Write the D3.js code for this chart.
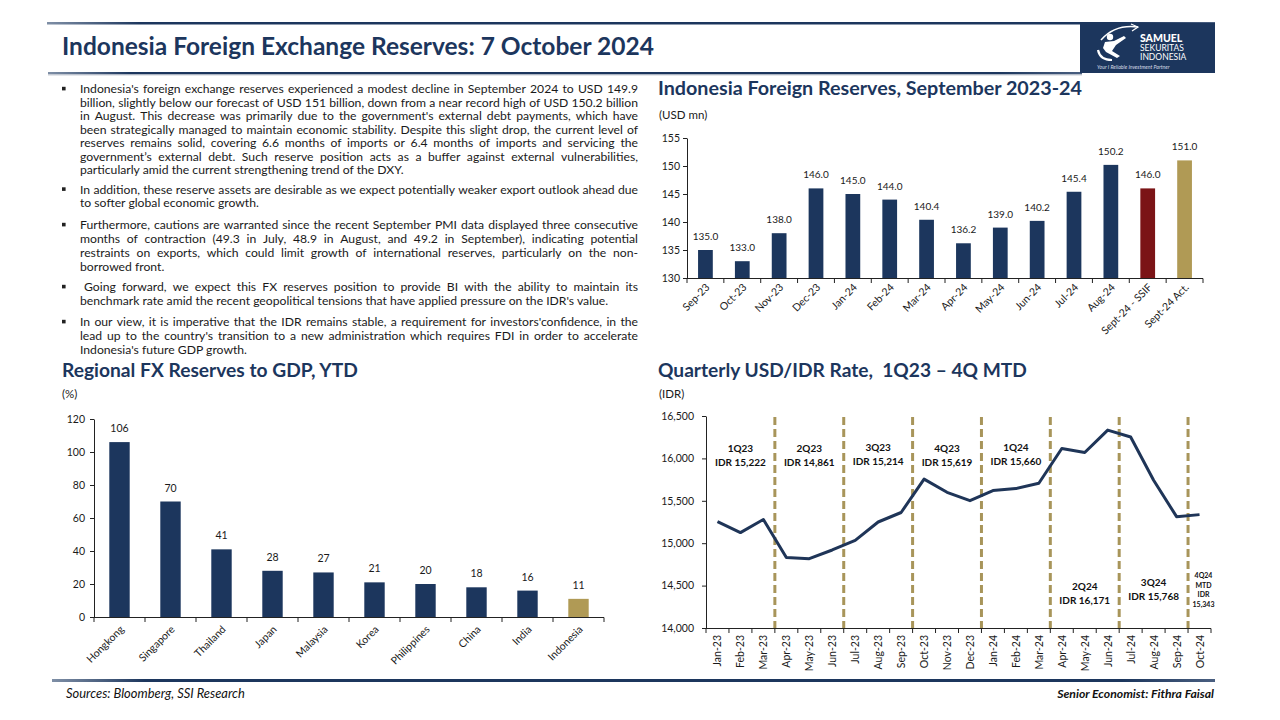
<!DOCTYPE html>
<html>
<head>
<meta charset="utf-8">
<script src="https://cdn.jsdelivr.net/npm/d3@7"></script>
<style>
  html, body { margin: 0; padding: 0; background: #fff; }
  svg { display: block; font-family: Lato, "Open Sans", sans-serif; }
</style>
</head>
<body>
<script>
// ---------------- DATA ----------------
const resCategories = ["Sep-23","Oct-23","Nov-23","Dec-23","Jan-24","Feb-24","Mar-24","Apr-24","May-24","Jun-24","Jul-24","Aug-24","Sept-24 - SSIF","Sept-24 Act."];
const resValues = [135.0,133.0,138.0,146.0,145.0,144.0,140.4,136.2,139.0,140.2,145.4,150.2,146.0,151.0];
const resTicks = [130,135,140,145,150,155];

const gdpCountries = ["Hongkong","Singapore","Thailand","Japan","Malaysia","Korea","Philippines","China","India","Indonesia"];
const gdpValues = [106,70,41,28,27,21,20,18,16,11];
const gdpTicks = [0,20,40,60,80,100,120];

const fxMonths = ["Jan-23","Feb-23","Mar-23","Apr-23","May-23","Jun-23","Jul-23","Aug-23","Sep-23","Oct-23","Nov-23","Dec-23","Jan-24","Feb-24","Mar-24","Apr-24","May-24","Jun-24","Jul-24","Aug-24","Sep-24","Oct-24"];
const fxValues = [15255,15125,15280,14832,14818,14920,15033,15250,15362,15755,15600,15502,15621,15644,15707,16117,16070,16334,16252,15743,15313,15337];
const fxTicks = [14000,14500,15000,15500,16000,16500];
const quarterNames = ["1Q23","2Q23","3Q23","4Q23","1Q24","2Q24","3Q24"];
const quarterAvg = ["IDR 15,222","IDR 14,861","IDR 15,214","IDR 15,619","IDR 15,660","IDR 16,171","IDR 15,768"];
const mtdLines = ["4Q24","MTD","IDR","15,343"];

const paragraphs = [
  ["Indonesia's foreign exchange reserves experienced a modest decline in September 2024 to USD 149.9",
   "billion, slightly below our forecast of USD 151 billion, down from a near record high of USD 150.2 billion",
   "in August. This decrease was primarily due to the government's external debt payments, which have",
   "been strategically managed to maintain economic stability. Despite this slight drop, the current level of",
   "reserves remains solid, covering 6.6 months of imports or 6.4 months of imports and servicing the",
   "government’s external debt. Such reserve position acts as a buffer against external vulnerabilities,",
   "particularly amid the current strengthening trend of the DXY."],
  ["In addition, these reserve assets are desirable as we expect potentially weaker export outlook ahead due",
   "to softer global economic growth."],
  ["Furthermore, cautions are warranted since the recent September PMI data displayed three consecutive",
   "months of contraction (49.3 in July, 48.9 in August, and 49.2 in September), indicating potential",
   "restraints on exports, which could limit growth of international reserves, particularly on the non-",
   "borrowed front."],
  ["Going forward, we expect this FX reserves position to provide BI with the ability to maintain its",
   "benchmark rate amid the recent geopolitical tensions that have applied pressure on the IDR's value."],
  ["In our view, it is imperative that the IDR remains stable, a requirement for investors'confidence, in the",
   "lead up to the country's transition to a new administration which requires FDI in order to accelerate",
   "Indonesia's future GDP growth."]
];

// ---------------- STYLE ----------------
const NAVY = "#1c365d";
const RED = "#7b1416";
const GOLD = "#b09a55";
const TEXT = "#1a1a1a";

const svg = d3.select("body").append("svg").attr("width", 1280).attr("height", 720);

const defs = svg.append("defs");
const grad = defs.append("linearGradient").attr("id", "rule").attr("x1", "0%").attr("x2", "100%");
grad.append("stop").attr("offset", "0%").attr("stop-color", "#7f8fa6");
grad.append("stop").attr("offset", "8%").attr("stop-color", NAVY);
grad.append("stop").attr("offset", "92%").attr("stop-color", NAVY);
grad.append("stop").attr("offset", "100%").attr("stop-color", "#4a5f80");

function fit(sel, width) {
  const fs = parseFloat(sel.attr("font-size"));
  const w = sel.node().getComputedTextLength();
  sel.attr("font-size", fs * width / w);
  return sel;
}

// ---------------- HEADER ----------------
svg.append("rect").attr("x", 47).attr("y", 22).attr("width", 1168).attr("height", 2.5).attr("fill", "url(#rule)");
svg.append("rect").attr("x", 48).attr("y", 72).attr("width", 1034).attr("height", 2.5).attr("fill", "url(#rule)");
svg.append("rect").attr("x", 48).attr("y", 74.5).attr("width", 1034).attr("height", 1).attr("fill", "#c9ced6");

fit(svg.append("text").attr("x", 62).attr("y", 55).attr("font-size", 22).attr("font-weight", 700)
  .attr("fill", NAVY).text("Indonesia Foreign Exchange Reserves: 7 October 2024"), 592);

// logo
const logo = svg.append("g");
logo.append("rect").attr("x", 1080).attr("y", 23).attr("width", 135).attr("height", 50).attr("fill", NAVY);
logo.append("path").attr("d", "M1101,40 Q1115,24 1138,27").attr("fill", "none").attr("stroke", "#fff").attr("stroke-width", 1.5);
logo.append("path").attr("d", "M1131,24 L1138,27 L1132,31").attr("fill", "none").attr("stroke", "#fff").attr("stroke-width", 1.2);
logo.append("circle").attr("cx", 1110).attr("cy", 37).attr("r", 3.2).attr("fill", "#fff");
logo.append("path").attr("d", "M1105,42 L1114,41 L1124,36 L1126,38 L1116,45 L1112,51 L1120,56 L1117,58 L1106,52 L1103,48 Z").attr("fill", "#fff");
logo.append("path").attr("d", "M1098,50 Q1100,60 1112,60").attr("fill", "none").attr("stroke", "#fff").attr("stroke-width", 2.2);
logo.append("text").attr("x", 1140).attr("y", 42).attr("font-size", 10.5).attr("font-weight", 900).attr("fill", "#fff").text("SAMUEL");
logo.append("text").attr("x", 1140).attr("y", 51).attr("font-size", 8.5).attr("fill", "#fff").text("SEKURITAS");
logo.append("text").attr("x", 1140).attr("y", 60).attr("font-size", 8.5).attr("fill", "#fff").text("INDONESIA");
logo.append("text").attr("x", 1097).attr("y", 68.5).attr("font-size", 5.2).attr("font-style", "italic").attr("fill", "#d5dbe6").text("Your I Reliable Investment Partner");

// ---------------- BODY TEXT ----------------
const body = svg.append("g").attr("fill", TEXT);
const probe = body.append("text").attr("font-size", 10).text(paragraphs[0][6]);
const bodyFs = 10 * 324 / probe.node().getComputedTextLength();
probe.remove();

const lineY = [[89,102.5,116,129.5,143,156.5,170],[189.5,203],[225,239,253,267],[287,301],[322,336,350]];
const X0 = 80, X1 = 638;
paragraphs.forEach((lines, pi) => {
  body.append("rect").attr("x", 62).attr("y", lineY[pi][0] - 2.2).attr("width", 3.6).attr("height", 3.6).attr("fill", "#222");
  lines.forEach((ln, li) => {
    const y = lineY[pi][li] + bodyFs * 0.35;
    const justify = li < lines.length - 1;
    const startX = (pi === 3 && li === 0) ? X0 + 4 : X0;
    if (!justify) {
      body.append("text").attr("x", startX).attr("y", y).attr("font-size", bodyFs).text(ln);
      return;
    }
    const words = ln.split(" ");
    const lg = body.append("g");
    const nodes = words.map(w => lg.append("text").attr("y", y).attr("font-size", bodyFs).text(w));
    const widths = nodes.map(n => n.node().getComputedTextLength());
    const gap = (X1 - startX - d3.sum(widths)) / (words.length - 1);
    let x = startX;
    nodes.forEach((n, i) => { n.attr("x", x); x += widths[i] + gap; });
  });
});

// ---------------- SECTION TITLES ----------------
fit(svg.append("text").attr("x", 658).attr("y", 94.5).attr("font-size", 18).attr("font-weight", 700).attr("fill", NAVY)
  .text("Indonesia Foreign Reserves, September 2023-24"), 424);
fit(svg.append("text").attr("x", 62).attr("y", 376.5).attr("font-size", 18).attr("font-weight", 700).attr("fill", NAVY)
  .text("Regional FX Reserves to GDP, YTD"), 296);
fit(svg.append("text").attr("x", 658).attr("y", 376.5).attr("font-size", 18).attr("font-weight", 700).attr("fill", NAVY)
  .style("white-space", "pre").text("Quarterly USD/IDR Rate,  1Q23 – 4Q MTD"), 369);

svg.append("text").attr("x", 659).attr("y", 119).attr("font-size", 11.5).attr("fill", TEXT).text("(USD mn)");
svg.append("text").attr("x", 62).attr("y", 398).attr("font-size", 11.5).attr("fill", TEXT).text("(%)");
svg.append("text").attr("x", 659).attr("y", 398).attr("font-size", 11.5).attr("fill", TEXT).text("(IDR)");

function styleAxis(g) {
  g.selectAll("path.domain").attr("stroke", "#222").attr("stroke-width", 1);
  g.selectAll(".tick line").attr("stroke", "#222");
  g.selectAll(".tick text").attr("fill", TEXT).attr("font-size", 10.5).attr("font-family", "Lato, sans-serif");
}

// ---------------- CHART 1: Foreign reserves ----------------
{
  const x = d3.scaleBand().domain(resCategories).range([687, 1203]).padding(0);
  const y = d3.scaleLinear().domain([130, 155]).range([278, 138]);
  const g = svg.append("g");
  const bw = x.bandwidth() * 0.4;
  g.selectAll("rect.bar").data(resCategories).join("rect")
    .attr("x", d => x(d) + (x.bandwidth() - bw) / 2)
    .attr("y", (d, i) => y(resValues[i]))
    .attr("width", bw)
    .attr("height", (d, i) => y(130) - y(resValues[i]))
    .attr("fill", d => d === "Sept-24 - SSIF" ? RED : d === "Sept-24 Act." ? GOLD : NAVY);
  g.selectAll("text.val").data(resCategories).join("text")
    .attr("x", d => x(d) + x.bandwidth() / 2)
    .attr("y", (d, i) => y(resValues[i]) - 10)
    .attr("text-anchor", "middle").attr("font-size", 10).attr("fill", TEXT)
    .text((d, i) => d3.format(".1f")(resValues[i]));
  const ya = g.append("g").attr("transform", "translate(687,0)")
    .call(d3.axisLeft(y).tickValues(resTicks).tickSize(4).tickSizeOuter(0).tickPadding(3));
  styleAxis(ya);
  g.append("line").attr("x1", 687).attr("x2", 1203).attr("y1", 278.5).attr("y2", 278.5).attr("stroke", "#222");
  g.selectAll("line.xt").data(d3.range(resCategories.length + 1)).join("line")
    .attr("x1", i => 687 + i * x.step()).attr("x2", i => 687 + i * x.step())
    .attr("y1", 278.5).attr("y2", 283).attr("stroke", "#222");
  g.selectAll("text.xl").data(resCategories).join("text")
    .attr("transform", d => `translate(${x(d) + x.bandwidth() / 2 + 5},${288}) rotate(-45)`)
    .attr("text-anchor", "end").attr("font-size", 10.5).attr("fill", TEXT).text(d => d);
}

// ---------------- CHART 2: Regional FX reserves to GDP ----------------
{
  const x = d3.scaleBand().domain(gdpCountries).range([94, 604]).padding(0);
  const y = d3.scaleLinear().domain([0, 120]).range([617, 419]);
  const g = svg.append("g");
  const bw = x.bandwidth() * 0.4;
  g.selectAll("rect.bar").data(gdpCountries).join("rect")
    .attr("x", d => x(d) + (x.bandwidth() - bw) / 2)
    .attr("y", (d, i) => y(gdpValues[i]))
    .attr("width", bw)
    .attr("height", (d, i) => y(0) - y(gdpValues[i]))
    .attr("fill", d => d === "Indonesia" ? GOLD : NAVY);
  g.selectAll("text.val").data(gdpCountries).join("text")
    .attr("x", d => x(d) + x.bandwidth() / 2)
    .attr("y", (d, i) => y(gdpValues[i]) - 10)
    .attr("text-anchor", "middle").attr("font-size", 10.5).attr("fill", TEXT)
    .text((d, i) => gdpValues[i]);
  const ya = g.append("g").attr("transform", "translate(94,0)")
    .call(d3.axisLeft(y).tickValues(gdpTicks).tickSize(4).tickSizeOuter(0).tickPadding(5));
  styleAxis(ya);
  g.append("line").attr("x1", 94).attr("x2", 604).attr("y1", 617.5).attr("y2", 617.5).attr("stroke", "#222");
  g.selectAll("line.xt").data(d3.range(gdpCountries.length + 1)).join("line")
    .attr("x1", i => 94 + i * x.step()).attr("x2", i => 94 + i * x.step())
    .attr("y1", 617.5).attr("y2", 622).attr("stroke", "#222");
  g.selectAll("text.xl").data(gdpCountries).join("text")
    .attr("transform", d => `translate(${x(d) + x.bandwidth() / 2 + 5},${630}) rotate(-45)`)
    .attr("text-anchor", "end").attr("font-size", 10.5).attr("fill", TEXT).text(d => d);
}

// ---------------- CHART 3: USD/IDR ----------------
{
  const x = d3.scaleBand().domain(fxMonths).range([706, 1211]).padding(0);
  const y = d3.scaleLinear().domain([14000, 16500]).range([628, 416]);
  const g = svg.append("g");
  const cx = d => x(d) + x.bandwidth() / 2;
  const seps = d3.range(3, fxMonths.length + 1, 3).filter(i => i < fxMonths.length);
  g.selectAll("line.sep").data(seps).join("line")
    .attr("x1", i => 706 + i * x.step()).attr("x2", i => 706 + i * x.step())
    .attr("y1", 417).attr("y2", 633)
    .attr("stroke", "#a8955a").attr("stroke-width", 3).attr("stroke-dasharray", "8,4");
  const line = d3.line().x((d, i) => cx(fxMonths[i])).y(d => y(d));
  g.append("path").datum(fxValues).attr("d", line).attr("fill", "none")
    .attr("stroke", "#1f3558").attr("stroke-width", 3).attr("stroke-linejoin", "round");
  const ya = g.append("g").attr("transform", "translate(706,0)")
    .call(d3.axisLeft(y).tickValues(fxTicks).tickSize(4).tickSizeOuter(0).tickPadding(8).tickFormat(d3.format(",")));
  styleAxis(ya);
  g.append("line").attr("x1", 706).attr("x2", 1211).attr("y1", 628.5).attr("y2", 628.5).attr("stroke", "#222");
  g.selectAll("line.xt").data(d3.range(fxMonths.length + 1)).join("line")
    .attr("x1", i => 706 + i * x.step()).attr("x2", i => 706 + i * x.step())
    .attr("y1", 628.5).attr("y2", 633).attr("stroke", "#222");
  g.selectAll("text.xl").data(fxMonths).join("text")
    .attr("transform", d => `translate(${cx(d) + 4},${635}) rotate(-90)`)
    .attr("text-anchor", "end").attr("font-size", 10.5).attr("fill", TEXT).text(d => d);
  const qLabelY = [448, 448, 447, 448, 447, 586, 582];
  quarterNames.forEach((q, qi) => {
    const mid = cx(fxMonths[qi * 3 + 1]);
    const t = g.append("text").attr("text-anchor", "middle").attr("font-size", 10).attr("font-weight", 700).attr("fill", "#111");
    t.append("tspan").attr("x", mid).attr("y", qLabelY[qi] + 3.5).text(q);
    t.append("tspan").attr("x", mid).attr("y", qLabelY[qi] + 18).text(quarterAvg[qi]);
  });
  const mx = cx(fxMonths[21]) + 4;
  const mt = g.append("text").attr("text-anchor", "middle").attr("font-size", 7).attr("font-weight", 700).attr("fill", "#111");
  mtdLines.forEach((s, i) => mt.append("tspan").attr("x", mx).attr("y", 578 + i * 9.5).text(s));
}

// ---------------- FOOTER ----------------
svg.append("rect").attr("x", 52).attr("y", 679).attr("width", 1163).attr("height", 3).attr("fill", "url(#rule)");
fit(svg.append("text").attr("x", 66).attr("y", 698).attr("font-size", 10).attr("font-style", "italic").attr("fill", "#111")
  .text("Sources: Bloomberg, SSI Research"), 179);
const se = svg.append("text").attr("x", 1214).attr("y", 698).attr("font-size", 10).attr("font-style", "italic").attr("font-weight", 700)
  .attr("text-anchor", "end").attr("fill", "#111").text("Senior Economist: Fithra Faisal");
fit(se, 157);
</script>
</body>
</html>
